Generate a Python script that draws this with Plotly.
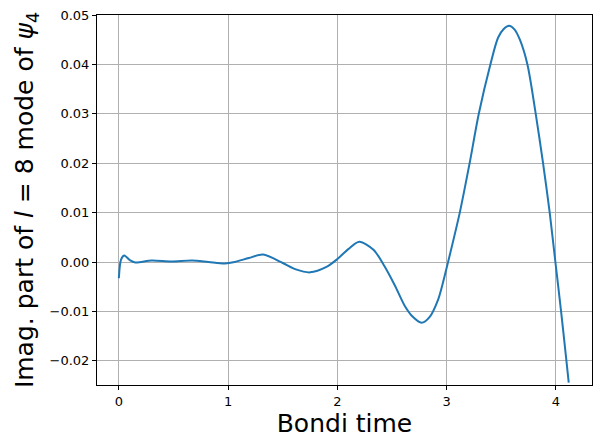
import plotly.graph_objects as go

# Bondi time and imaginary part of the l=8 mode of psi_4
bondi_time = [0, 0.02, 0.049, 0.1, 0.15, 0.3, 0.48, 0.67, 0.82, 0.97, 1.06, 1.19,
              1.32, 1.5, 1.62, 1.75, 1.9, 2.0, 2.1, 2.2, 2.33, 2.43, 2.525, 2.617,
              2.69, 2.77, 2.845, 2.92, 2.96, 3.013, 3.12, 3.21, 3.294, 3.40, 3.47,
              3.52, 3.571, 3.62, 3.67, 3.739, 3.815, 3.882, 3.943, 3.995, 4.047,
              4.096, 4.117]
imag_psi4 = [-0.0033, 0.0005, 0.0013, 0.0004, -0.0001, 0.0003, 0.0001, 0.0003,
             0.0000, -0.0003, 0.0000, 0.0008, 0.0015, -0.0002, -0.0015, -0.0021,
             -0.0010, 0.0006, 0.0026, 0.0041, 0.0025, -0.0008, -0.0047, -0.0089,
             -0.0111, -0.0123, -0.0111, -0.0077, -0.0047, 0.0000, 0.0100, 0.0200,
             0.0300, 0.0400, 0.0454, 0.0471, 0.0478, 0.0471, 0.0450, 0.0400, 0.0300,
             0.0200, 0.0100, 0.0000, -0.0100, -0.0200, -0.0244]

x_ticks = [0, 1, 2, 3, 4]
y_ticks = [-0.02, -0.01, 0.0, 0.01, 0.02, 0.03, 0.04, 0.05]

fig = go.Figure(
    go.Scatter(
        x=bondi_time,
        y=imag_psi4,
        mode="lines",
        line=dict(color="#1f77b4", width=2, shape="spline", smoothing=0.8),
        showlegend=False,
    )
)

axis_common = dict(
    showline=True,
    linecolor="black",
    linewidth=1,
    mirror=True,
    showgrid=True,
    gridcolor="#b0b0b0",
    gridwidth=1,
    zeroline=False,
    ticks="outside",
    ticklen=4,
    tickcolor="black",
    tickfont=dict(family="DejaVu Sans", size=13, color="black"),
    automargin=False,
)

fig.update_layout(
    width=601,
    height=448,
    margin=dict(l=97, r=9, t=15, b=63),
    plot_bgcolor="white",
    paper_bgcolor="white",
    xaxis=dict(
        axis_common,
        range=[-0.2, 4.33],
        tickvals=x_ticks,
        ticktext=[str(v) for v in x_ticks],
        title=dict(text="Bondi time", font=dict(family="DejaVu Sans", size=25, color="black"),
                   standoff=6),
    ),
    yaxis=dict(
        axis_common,
        range=[-0.0249, 0.05],
        tickvals=y_ticks,
        ticktext=[f"{v:.2f}".replace("-", "\u2212") for v in y_ticks],
        title=dict(
            text="Imag. part of <i>l</i> = 8 mode of <i>ψ</i><sub>4</sub>",
            font=dict(family="DejaVu Sans", size=25, color="black"),
            standoff=8,
        ),
    ),
)

# drop the page's default body margin so the figure sits at the window corner
fig.write_html(
    "out.html",
    config={"displayModeBar": False},
    post_script="document.body.style.margin='0';",
)
